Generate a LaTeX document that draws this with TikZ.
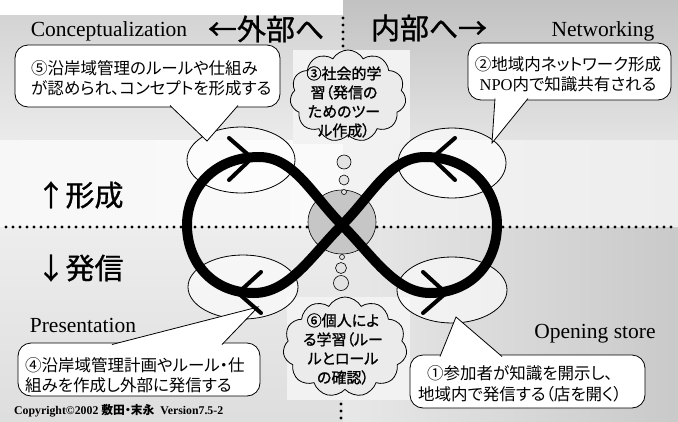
\documentclass[tikz,border=0pt]{standalone}
\usepackage{fontspec}
\setmainfont{Liberation Serif}
\newfontfamily\jp[RawFeature=+palt]{Noto Sans CJK JP}
\newfontfamily\jpb[RawFeature=+palt,FakeBold=1.2]{Noto Sans CJK JP}
\newfontfamily\jph[FakeBold=1]{Noto Sans CJK JP}
\usetikzlibrary{shapes.symbols,shapes.geometric}
\begin{document}
\begin{tikzpicture}[x=1pt,y=-1pt,
  callbox/.style={draw=black, line width=0.8pt, fill=white, rounded corners=13pt, inner sep=0pt},
  tailfill/.style={fill=white},
  tailline/.style={draw=black, line width=0.8pt},
  ell/.style={ellipse, draw=black, line width=0.8pt, fill=white, fill opacity=0.6, inner sep=0pt},
  loopline/.style={line width=10pt, draw=black, line join=round},
  barb/.style={line width=4pt, line cap=round},
  dotline/.style={line width=3.4pt, dash pattern=on 0pt off 7pt, line cap=round},
  cloudshape/.style={cloud, cloud puffs=11, cloud puff arc=120, cloud ignores aspect, draw=black, line width=0.8pt, fill=gray!16, inner sep=0pt},
  bubble/.style={circle, draw=black, line width=0.6pt, fill=gray!22, inner sep=0pt},
  ctext/.style={font=\jp\fontsize{16.5}{20.5}\selectfont, inner sep=0pt},
  cltext/.style={font=\jpb\fontsize{15}{19}\selectfont, inner sep=0pt, align=center},
  heading/.style={font=\jph\fontsize{29}{30}\selectfont, inner sep=0pt},
  latin/.style={font=\fontsize{21.5}{24}\selectfont, inner sep=0pt}
]
\useasboundingbox (0,0) rectangle (678,421);
% background
\fill[white] (0,0) rectangle (678,421);
\shade[top color=gray!34, bottom color=gray!16] (0,15) rectangle (343,140);
\shade[top color=gray!48, bottom color=gray!22] (343,0) rectangle (678,140);
\shade[left color=gray!6, right color=gray!4] (0,140) rectangle (343,227);
\shade[left color=gray!10, right color=gray!14] (343,140) rectangle (678,227);
\shade[top color=gray!14, bottom color=gray!26] (0,227) rectangle (343,421);
\shade[left color=gray!18, right color=gray!42] (343,227) rectangle (678,421);
% light boxes behind clouds
\fill[gray!10] (293,50) rectangle (410,144);
\fill[gray!10] (287,297) rectangle (410,400);
% dotted lines
\draw[dotline] (6,227) -- (678,227);
\draw[dotline] (343,18) -- (343,48);
\draw[dotline] (341,404) -- (341,421);
% ellipses
\node[ell, minimum width=108, minimum height=66] (e1) at (241,160) {};
\node[ell, minimum width=108, minimum height=70] (e2) at (452,163) {};
\node[ell, minimum width=110, minimum height=64] (e3) at (243,287) {};
\node[ell, minimum width=110, minimum height=66] (e4) at (452,290) {};
% centre circle
\node[ellipse, draw=black, line width=0.6pt, fill=gray!45, minimum width=68, minimum height=64] (mid) at (342,222) {};
% thought bubbles
\node[bubble, minimum size=14] (b1) at (344,162) {};
\node[bubble, minimum size=10] (b2) at (344,180) {};
\node[bubble, minimum size=5] (b3) at (344,192) {};
\node[bubble, minimum size=5] (b4) at (342,257) {};
\node[bubble, minimum size=11] (b5) at (341,268) {};
\node[bubble, minimum size=15] (b6) at (341,283) {};
% clouds
\node[cloudshape, minimum width=116, minimum height=92] (cl3) at (348,96) {};
\node[cltext] (tx3) at (344,102) {③社会的学\\習（発信の\\ためのツー\\ル作成）};
\node[cloudshape, minimum width=124, minimum height=100] (cl6) at (345,347) {};
\node[cltext] (tx6) at (343,349) {⑥個人によ\\る学習（ルー\\ルとロール\\の確認）};
% callout 5
\node[callbox, minimum width=265, minimum height=62] (c5) at (147.5,76) {};
\coordinate (t5a) at (170,105.5); \coordinate (t5) at (207,141); \coordinate (t5b) at (238,105.5);
\fill[tailfill] (t5a) -- (t5) -- (t5b) -- cycle;
\draw[tailline] (t5a) -- (t5) -- (t5b);
\node[ctext, anchor=west, align=left] (tx5) at (31,78) {⑤沿岸域管理のルールや仕組み\\が認められ、コンセプトを形成する};
% callout 2
\node[callbox, minimum width=203, minimum height=57] (c2) at (569.5,71.5) {};
\coordinate (t2a) at (495,98.5); \coordinate (t2) at (492,143); \coordinate (t2b) at (528,98.5);
\fill[tailfill] (t2a) -- (t2) -- (t2b) -- cycle;
\draw[tailline] (t2a) -- (t2) -- (t2b);
\node[ctext, align=center] (tx2) at (568,74) {②地域内ネットワーク形成\\{\rmfamily NPO}内で知識共有される};
% callout 4
\node[callbox, minimum width=242, minimum height=53] (c4) at (139,369.5) {};
\coordinate (t4a) at (112,344.5); \coordinate (t4) at (258,307); \coordinate (t4b) at (222,344.5);
\fill[tailfill] (t4a) -- (t4) -- (t4b) -- cycle;
\draw[tailline] (t4a) -- (t4) -- (t4b);
\node[ctext, anchor=west, align=left] (tx4) at (25,375) {④沿岸域管理計画やルール・仕\\組みを作成し外部に発信する};
% callout 1
\node[callbox, minimum width=235, minimum height=53] (c1) at (527.5,381.5) {};
\coordinate (t1a) at (440,356.5); \coordinate (t1) at (456,317); \coordinate (t1b) at (502,356.5);
\fill[tailfill] (t1a) -- (t1) -- (t1b) -- cycle;
\draw[tailline] (t1a) -- (t1) -- (t1b);
\node[ctext, align=center] (tx1) at (520,384) {①参加者が知識を開示し、\\地域内で発信する（店を開く）};
% infinity loop
\draw[loopline] (342,225) .. controls (372,195) and (390,157) .. (425,157)
  .. controls (471,157) and (497,190) .. (497,225)
  .. controls (497,263) and (471,293) .. (430,293)
  .. controls (395,293) and (372,255) .. (342,225)
  .. controls (312,195) and (294,157) .. (259,157)
  .. controls (213,157) and (187,190) .. (187,225)
  .. controls (187,263) and (213,293) .. (254,293)
  .. controls (289,293) and (312,255) .. (342,225) -- cycle;
% arrow barbs
\coordinate (a1) at (252,158); \draw[barb] (229,138) -- (a1) -- (229,180);
\coordinate (a2) at (432,158); \draw[barb] (455,138) -- (a2) -- (455,180);
\coordinate (a3) at (238,293); \draw[barb] (261,272) -- (a3) -- (261,313);
\coordinate (a4) at (446,293); \draw[barb] (423,272) -- (a4) -- (423,313);
% headings
\node[latin] (conc) at (109,31) {Conceptualization};
\node[heading] (out) at (266,29) {←外部へ};
\node[heading] (in) at (429,28) {内部へ→};
\node[latin] (netw) at (603,31) {Networking};
\node[heading] (form) at (80,195) {↑形成};
\node[heading] (send) at (80,268) {↓発信};
\node[latin] (pres) at (83,325) {Presentation};
\node[latin] (open) at (595,334) {Opening store};
\node[font=\bfseries\fontsize{11.8}{13}\selectfont, anchor=west, inner sep=0pt] (copy) at (14,411) {Copyright©2002 {\jp 敷田・末永}\ \ Version7.5-2};
\end{tikzpicture}
\end{document}
